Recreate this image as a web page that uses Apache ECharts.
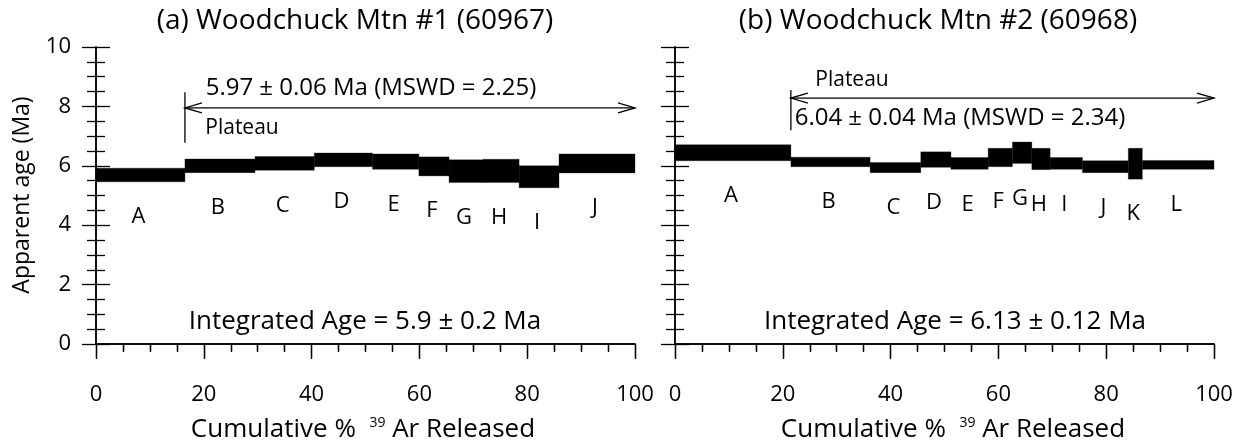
<!DOCTYPE html>
<html><head><meta charset="utf-8">
<script src="https://cdn.jsdelivr.net/npm/echarts/dist/echarts.min.js"></script>
<style>html,body{margin:0;padding:0;background:#fff}#c{width:1242px;height:448px}</style>
</head><body><div id="c"></div>
<script>
// ---- data ----
const xTickLabels = [0, 20, 40, 60, 80, 100];
const yTickLabels = [0, 2, 4, 6, 8, 10];

const stepsA = ['A','B','C','D','E','F','G','H','I','J'];
const edgesA = [0, 16.5, 29.5, 40.5, 51.3, 59.9, 65.5, 71.8, 78.5, 85.9, 100];
const agesA  = [5.69, 6.00, 6.08, 6.20, 6.14, 5.98, 5.82, 5.83, 5.63, 6.08];
const errA   = [0.23, 0.23, 0.23, 0.23, 0.26, 0.32, 0.38, 0.39, 0.37, 0.32];

const stepsB = ['A','B','C','D','E','F','G','H','I','J','K','L'];
const edgesB = [0, 21.5, 36.2, 45.6, 51.2, 58.1, 62.6, 66.2, 69.6, 75.6, 84.1, 86.7, 100];
const agesB  = [6.44, 6.13, 5.94, 6.21, 6.08, 6.28, 6.44, 6.23, 6.08, 5.97, 6.07, 6.03];
const errB   = [0.27, 0.16, 0.17, 0.26, 0.20, 0.31, 0.36, 0.36, 0.20, 0.20, 0.52, 0.15];

// plateau: [startX, endX, arrowAge, barTopAge, barBottomAge]
const plateauA = [16.5, 100, 7.95, 8.48, 6.78];
const plateauB = [21.5, 100, 8.28, 8.55, 7.20];

const titleA = '(a) Woodchuck Mtn #1 (60967)';
const titleB = '(b) Woodchuck Mtn #2 (60968)';
const plateauTextA = '5.97 ± 0.06 Ma (MSWD = 2.25)';
const plateauTextB = '6.04 ± 0.04 Ma (MSWD = 2.34)';
const integratedA = 'Integrated Age = 5.9 ± 0.2 Ma';
const integratedB = 'Integrated Age = 6.13 ± 0.12 Ma';

// ---- build ----
const FONT = '"Open Sans", "Noto Sans", sans-serif';
function boxes(edges, ages, errs) {
  return ages.map((a, i) => [edges[i], edges[i + 1], a - errs[i], a + errs[i]]);
}
function makeRenderBox(names) {
  return function (params, api) {
    const p0 = api.coord([api.value(0), api.value(3)]);
    const p1 = api.coord([api.value(1), api.value(2)]);
    return {
      type: 'group',
      children: [
        { type: 'rect', shape: { x: p0[0], y: p0[1], width: p1[0] - p0[0], height: p1[1] - p0[1] },
          style: { fill: '#000', stroke: '#000', lineWidth: 0.3 } },
        { type: 'text', style: { text: names[params.dataIndex], x: (p0[0] + p1[0]) / 2 - 2, y: p1[1] + 35,
          align: 'center', verticalAlign: 'middle', fontSize: 22, fontFamily: FONT, fill: '#000' } }
      ]
    };
  };
}
function renderPlateau(params, api) {
  const a = api.coord([api.value(0), api.value(2)]);
  const b = api.coord([api.value(1), api.value(2)]);
  const t = api.coord([api.value(0), api.value(3)]);
  const bo = api.coord([api.value(0), api.value(4)]);
  const L = 17, W = 5;
  const st = { stroke: '#000', lineWidth: 1.3, fill: null };
  return {
    type: 'group',
    children: [
      { type: 'line', shape: { x1: a[0], y1: a[1], x2: b[0], y2: b[1] }, style: st },
      { type: 'line', shape: { x1: t[0], y1: t[1], x2: bo[0], y2: bo[1] }, style: st },
      { type: 'polyline', shape: { points: [[a[0] + L, a[1] - W], [a[0], a[1]], [a[0] + L, a[1] + W]] }, style: st },
      { type: 'polyline', shape: { points: [[b[0] - L, b[1] - W], [b[0], b[1]], [b[0] - L, b[1] + W]] }, style: st }
    ]
  };
}

const axLine = { show: true, lineStyle: { color: '#000', width: 1.5 } };
const tickStyle = { color: '#000', width: 1.3 };
function xAxes(g) {
  return [
    { gridIndex: g, type: 'value', position: 'bottom', min: 0, max: 100, interval: 20,
      axisLine: axLine, splitLine: { show: false },
      axisTick: { show: true, length: 15, lineStyle: tickStyle },
      minorTick: { show: true, splitNumber: 4, length: 8, lineStyle: tickStyle },
      axisLabel: { show: true, margin: 40, fontSize: 22, color: '#000', fontFamily: FONT,
        formatter: v => xTickLabels.includes(v) ? String(v) : '' } },
    { gridIndex: g, type: 'value', position: 'top', min: 0, max: 100, interval: 20,
      axisLine: axLine, splitLine: { show: false },
      axisTick: { show: true, inside: true, length: 14, lineStyle: tickStyle },
      minorTick: { show: true, splitNumber: 4, length: 7, lineStyle: tickStyle },
      axisLabel: { show: false } }
  ];
}
function yAxes(g, labels) {
  return [
    { gridIndex: g, type: 'value', position: 'left', min: 0, max: 10, interval: 2,
      axisLine: axLine, splitLine: { show: false },
      axisTick: { show: true, length: 14, lineStyle: tickStyle },
      minorTick: { show: true, splitNumber: 4, length: 9, lineStyle: tickStyle },
      axisLabel: { show: labels, margin: 25, fontSize: 22, color: '#000', fontFamily: FONT,
        formatter: v => yTickLabels.includes(v) ? String(v) : '' } },
    { gridIndex: g, type: 'value', position: 'right', min: 0, max: 10, interval: 2,
      axisLine: axLine, splitLine: { show: false },
      axisTick: { show: true, length: 14, lineStyle: tickStyle },
      minorTick: { show: true, splitNumber: 4, length: 9, lineStyle: tickStyle },
      axisLabel: { show: false } }
  ];
}

function txt(text, x, y, size, extra) {
  return Object.assign({ type: 'text', x: x, y: y, silent: true,
    style: { text: text, fontSize: size, fontFamily: FONT, fill: '#000', align: 'center', verticalAlign: 'middle' } }, extra || {});
}
function xNameEl(x) {
  return { type: 'text', x: x, y: 430, silent: true,
    style: { text: 'Cumulative %  {s|39} Ar Released', fontSize: 26, fontFamily: FONT, fill: '#000',
      align: 'center', verticalAlign: 'middle',
      rich: { s: { fontSize: 14, fontFamily: FONT, fill: '#000', verticalAlign: 'top', padding: [0, 0, 14, 0] } } } };
}

const option = {
  animation: false,
  backgroundColor: '#fff',
  grid: [
    { left: 96, right: 607, top: 47, bottom: 104 },
    { left: 675, right: 28, top: 47, bottom: 104 }
  ],
  xAxis: [].concat(xAxes(0), xAxes(1)),
  yAxis: [].concat(yAxes(0, true), yAxes(1, false)),
  series: [
    { type: 'custom', xAxisIndex: 0, yAxisIndex: 0, renderItem: makeRenderBox(stepsA), data: boxes(edgesA, agesA, errA), clip: false },
    { type: 'custom', xAxisIndex: 2, yAxisIndex: 2, renderItem: makeRenderBox(stepsB), data: boxes(edgesB, agesB, errB), clip: false },
    { type: 'custom', xAxisIndex: 0, yAxisIndex: 0, renderItem: renderPlateau, data: [plateauA] },
    { type: 'custom', xAxisIndex: 2, yAxisIndex: 2, renderItem: renderPlateau, data: [plateauB] }
  ],
  graphic: [
    txt(titleA, 355, 21, 28),
    txt(titleB, 938, 21, 28),
    txt(plateauTextA, 371, 88, 24),
    txt('Plateau', 242, 128, 21),
    txt('Plateau', 852, 80, 21),
    txt(plateauTextB, 960, 118, 24),
    txt(integratedA, 365, 322, 26),
    txt(integratedB, 955, 322, 26),
    txt('Apparent age (Ma)', 22, 195, 23, { rotation: Math.PI / 2 }),
    xNameEl(363),
    xNameEl(953)
  ]
};
const chart = echarts.init(document.getElementById('c'), null, { renderer: 'canvas' });
chart.setOption(option);
</script>
</body></html>
